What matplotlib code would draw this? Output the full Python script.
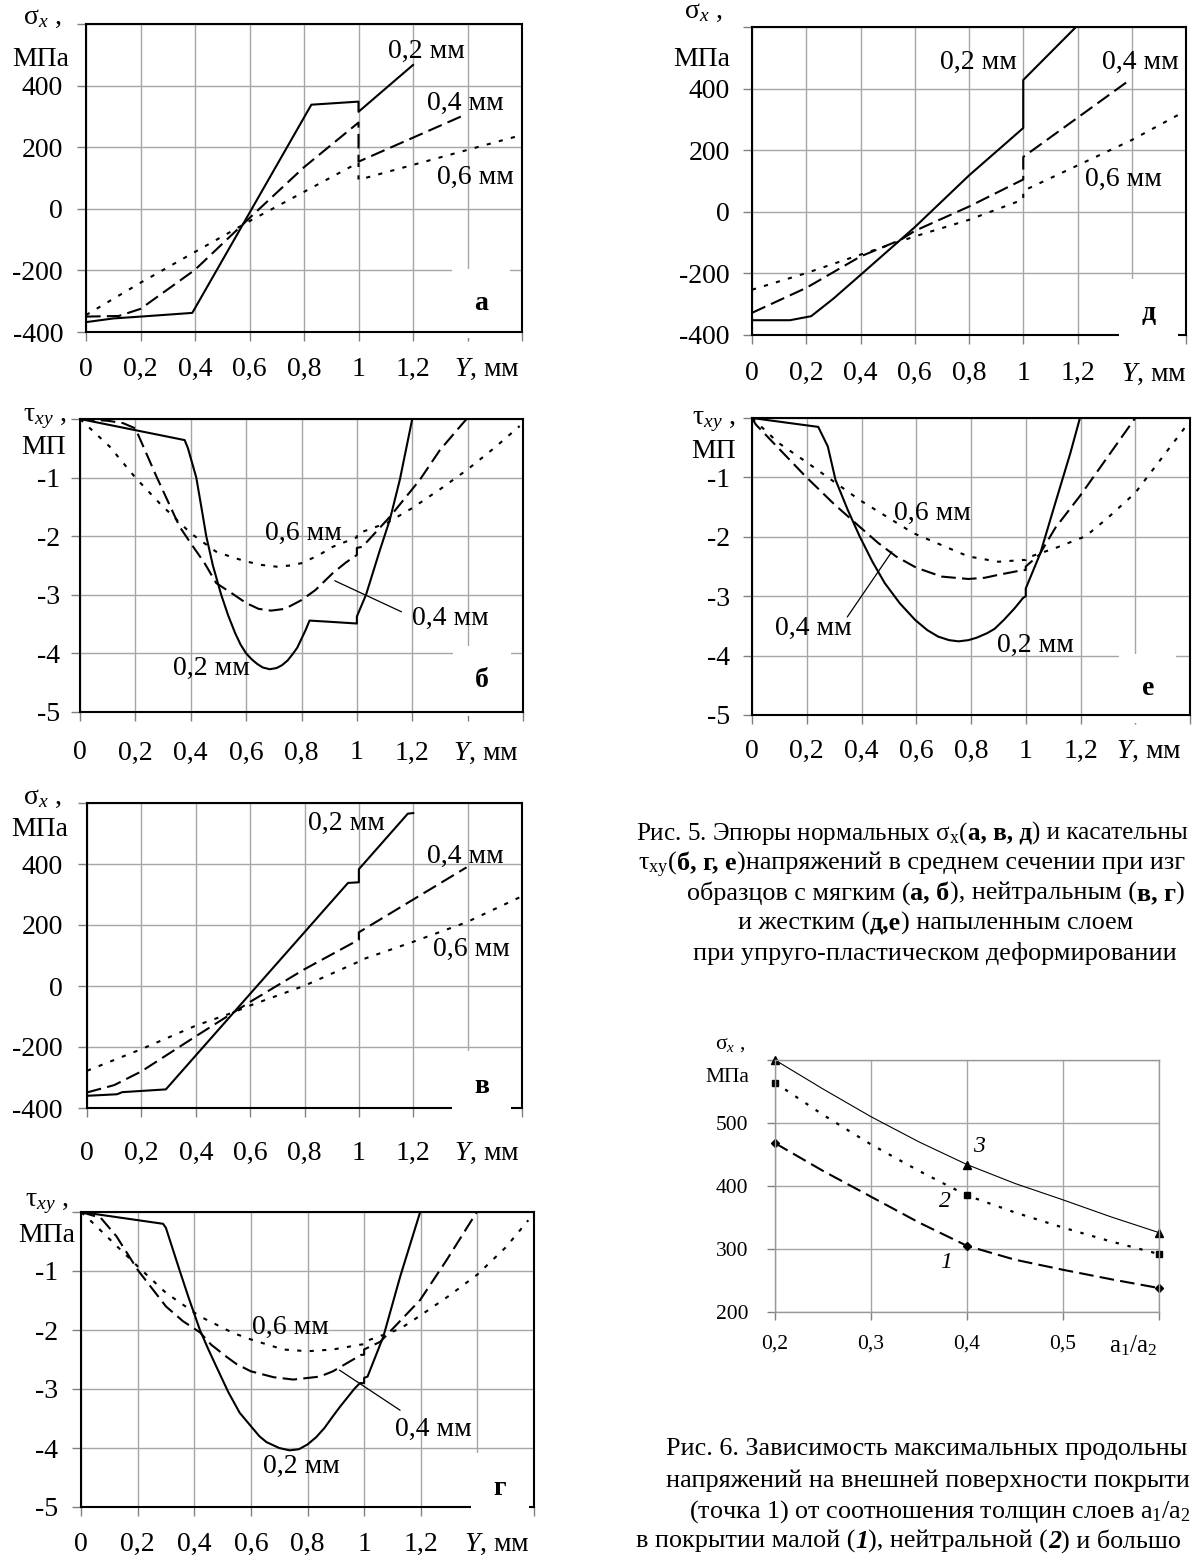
import matplotlib
matplotlib.use("Agg")
import matplotlib.pyplot as plt

plt.rcParams['font.family'] = ['Liberation Serif', 'DejaVu Serif']
plt.rcParams['mathtext.fontset'] = 'custom'
plt.rcParams['mathtext.rm'] = 'Liberation Serif'
plt.rcParams['mathtext.it'] = 'Liberation Serif:italic'
plt.rcParams['mathtext.bf'] = 'Liberation Serif:bold'
plt.rcParams['axes.unicode_minus'] = False

W, H = 1198, 1561

# ---- axis ticks ----
Y_TICKS = [0, 0.2, 0.4, 0.6, 0.8, 1.0, 1.2, 1.4, 1.6]
Y_TICK_LABELS = ['0', '0,2', '0,4', '0,6', '0,8', '1', '1,2', '', '']
SIG_TICKS = [-400, -200, 0, 200, 400, 600]
SIG_TICK_LABELS = ['-400', '-200', '0', '200', '400', '']
TAU_TICKS = [-5, -4, -3, -2, -1, 0]
TAU_TICK_LABELS = ['-5', '-4', '-3', '-2', '-1', '']

# ---- panel а : sigma_x, soft layer ----
A_Y02 = [0, 0.1, 0.2, 0.39, 0.827, 1.0, 1.0, 1.2]
A_S02 = [-368, -356, -350, -338, 338, 348, 315, 467]
A_Y04 = [0, 0.12, 0.2, 0.4, 0.6, 0.8, 1.0, 1.0, 1.39]
A_S04 = [-350, -348, -325, -198, -30, 135, 280, 153, 305]
A_Y06 = [0, 0.2, 0.4, 0.6, 0.8, 1.0, 1.0, 1.58]
A_S06 = [-345, -240, -140, -40, 55, 150, 94, 235]

# ---- panel б : tau_xy, soft layer ----
B_Y02 = [0, 0.378, 0.39, 0.42, 0.44, 0.456, 0.48, 0.51, 0.535, 0.56, 0.58, 0.60, 0.62,
         0.64, 0.66, 0.685, 0.71, 0.73, 0.75, 0.77, 0.785, 0.80, 0.815, 0.829, 0.9,
         1.0, 1.0, 1.033, 1.083, 1.119, 1.155, 1.20]
B_T02 = [0, -0.36, -0.5, -1.0, -1.55, -2.0, -2.5, -3.0, -3.35, -3.65, -3.85, -4.0, -4.1,
         -4.18, -4.24, -4.27, -4.25, -4.2, -4.12, -4.0, -3.9, -3.75, -3.6, -3.44, -3.46,
         -3.49, -3.37, -3.0, -2.24, -1.72, -1.04, 0]
B_Y04 = [0, 0.1, 0.155, 0.2, 0.276, 0.36, 0.4, 0.45, 0.492, 0.55, 0.6, 0.645, 0.69,
         0.74, 0.8, 0.85, 0.913, 0.96, 1.0, 1.0, 1.02, 1.119, 1.227, 1.30, 1.396]
B_T04 = [0, -0.03, -0.07, -0.16, -0.98, -1.84, -2.12, -2.46, -2.8, -2.98, -3.14, -3.24, -3.27,
         -3.24, -3.09, -2.92, -2.63, -2.45, -2.32, -2.2, -2.18, -1.67, -1.04, -0.53, 0]
B_Y06 = [0, 0.107, 0.2, 0.288, 0.4, 0.49, 0.55, 0.6, 0.655, 0.71, 0.76, 0.8, 0.86, 0.913,
         1.0, 1.0, 1.11, 1.2, 1.3, 1.4, 1.5, 1.588]
B_T06 = [0, -0.47, -1.0, -1.44, -1.95, -2.26, -2.36, -2.43, -2.49, -2.52, -2.5, -2.46, -2.33,
         -2.18, -2.02, -1.96, -1.77, -1.52, -1.2, -0.86, -0.48, -0.12]

# ---- panel в : sigma_x, neutral layer ----
V_Y02 = [0, 0.11, 0.13, 0.29, 0.96, 1.0, 1.0, 1.18, 1.2]
V_S02 = [-360, -355, -348, -339, 338, 340, 383, 565, 567]
V_Y04 = [0, 0.1, 0.2, 0.4, 0.54, 0.6, 0.8, 1.0, 1.0, 1.396]
V_S04 = [-349, -325, -280, -165, -86, -52, 55, 152, 176, 389]
V_Y06 = [0, 0.2, 0.4, 0.54, 0.6, 0.8, 1.0, 1.0, 1.2, 1.396, 1.592]
V_S06 = [-278, -207, -130, -86, -64, 1, 80, 83, 145, 209, 291]

# ---- panel г : tau_xy, neutral layer ----
G_Y02 = [0, 0.29, 0.30, 0.349, 0.38, 0.42, 0.45, 0.478, 0.52, 0.56, 0.6, 0.63, 0.655,
         0.70, 0.737, 0.77, 0.8, 0.83, 0.86, 0.89, 0.915, 0.94, 0.965, 0.985, 1.0,
         1.0, 1.012, 1.068, 1.127, 1.198]
G_T02 = [0, -0.2, -0.27, -1.0, -1.45, -2.0, -2.33, -2.62, -3.05, -3.4, -3.63, -3.8, -3.9,
         -4.0, -4.04, -4.02, -3.94, -3.82, -3.66, -3.46, -3.3, -3.15, -3.0, -2.9, -2.9,
         -2.81, -2.79, -2.11, -1.10, 0]
G_Y04 = [0, 0.07, 0.125, 0.2, 0.3, 0.36, 0.42, 0.46, 0.513, 0.55, 0.6, 0.68, 0.75,
         0.843, 0.89, 0.94, 0.99, 1.0, 1.0, 1.057, 1.198, 1.292, 1.398]
G_T04 = [0, -0.1, -0.41, -0.98, -1.6, -1.85, -2.04, -2.25, -2.45, -2.58, -2.7, -2.8, -2.84,
         -2.79, -2.7, -2.56, -2.42, -2.42, -2.33, -2.2, -1.49, -0.81, 0]
G_Y06 = [0, 0.03, 0.2, 0.3, 0.42, 0.537, 0.6, 0.714, 0.8, 0.89, 0.985, 1.0,
         1.0, 1.127, 1.2, 1.3, 1.4, 1.5, 1.58]
G_T06 = [0, -0.13, -0.92, -1.37, -1.77, -2.05, -2.16, -2.33, -2.36, -2.33, -2.25, -2.24,
         -2.2, -1.98, -1.75, -1.42, -1.06, -0.6, -0.14]

# ---- panel д : sigma_x, hard layer ----
D_Y02 = [0, 0.14, 0.218, 0.3, 0.4, 0.6, 0.8, 1.0, 1.0, 1.2]
D_S02 = [-352, -352, -339, -282, -205, -50, 118, 272, 428, 605]
D_Y04 = [0, 0.2, 0.4, 0.55, 0.6, 0.8, 1.0, 1.0, 1.38]
D_S04 = [-328, -247, -145, -90, -62, 17, 105, 178, 420]
D_Y06 = [0, 0.2, 0.4, 0.6, 0.8, 1.0, 1.0, 1.4, 1.57]
D_S06 = [-253, -199, -139, -80, -26, 40, 68, 233, 314]

# ---- panel е : tau_xy, hard layer ----
E_Y02 = [0, 0.242, 0.277, 0.305, 0.35, 0.393, 0.44, 0.485, 0.54, 0.596, 0.64, 0.68, 0.72,
         0.755, 0.79, 0.82, 0.86, 0.886, 0.92, 0.96, 0.99, 1.0, 1.0, 1.053, 1.108,
         1.163, 1.198]
E_T02 = [0, -0.15, -0.48, -1.04, -1.55, -1.99, -2.42, -2.78, -3.12, -3.4, -3.57, -3.68, -3.74,
         -3.76, -3.74, -3.7, -3.62, -3.55, -3.4, -3.2, -3.03, -3.0, -2.87, -2.28, -1.43,
         -0.59, 0]
E_Y04 = [0, 0.014, 0.195, 0.3, 0.393, 0.46, 0.526, 0.6, 0.693, 0.79, 0.85, 0.9, 0.99,
         1.0, 1.0, 1.05, 1.108, 1.2, 1.3, 1.4]
E_T04 = [0, -0.11, -0.98, -1.45, -1.83, -2.1, -2.33, -2.52, -2.67, -2.71, -2.69, -2.64, -2.56,
         -2.56, -2.5, -2.3, -1.85, -1.3, -0.65, 0]
E_Y06 = [0, 0.097, 0.195, 0.393, 0.59, 0.79, 0.9, 0.99, 1.0, 1.0, 1.108, 1.219,
         1.3, 1.4, 1.58]
E_T06 = [0, -0.42, -0.73, -1.38, -1.94, -2.33, -2.42, -2.39, -2.39, -2.36, -2.19, -1.99,
         -1.68, -1.26, -0.17]

# ---- fig. 6 : max sigma_x vs a1/a2 ----
RATIO = [0.2, 0.25, 0.3, 0.35, 0.4, 0.45, 0.5, 0.55, 0.6]
RATIO_TICKS = [0.2, 0.3, 0.4, 0.5, 0.6]
RATIO_TICK_LABELS = ['0,2', '0,3', '0,4', '0,5', '']
SIG_1 = [468, 424, 383, 342, 305, 283, 267, 252, 238]
SIG_2 = [564, 513, 466, 424, 385, 358, 334, 312, 292]
SIG_3 = [600, 554, 510, 470, 434, 404, 378, 351, 326]
SIG6_TICKS = [200, 300, 400, 500, 600]
SIG6_TICK_LABELS = ['200', '300', '400', '500', '']

GRID = '#a6a6a6'
TICKC = '#808080'
SOLID = dict(color='black', lw=1.5, ls='-')
DASHED = dict(color='black', lw=1.5, ls=(0, (7, 3)))
DOTTED = dict(color='black', lw=1.5, ls=(0, (2, 4)))

fig = plt.figure(figsize=(W / 100, H / 100), dpi=100)
fig.patch.set_facecolor('white')


def box(x0, y0, x1, y1):
    return fig.add_axes([x0 / W, 1 - y1 / H, (x1 - x0) / W, (y1 - y0) / H])


def profile(ax, curves, ticks, ticklabels, ylim, fs, tlen, xpad, ypad, unit_x):
    for (yy, vv), st in zip(curves, (SOLID, DASHED, DOTTED)):
        ax.plot(yy, vv, **st)
    ax.set_xlim(0, 1.6)
    ax.set_ylim(*ylim)
    ax.set_xticks(Y_TICKS)
    ax.set_xticklabels(Y_TICK_LABELS)
    ax.set_yticks(ticks)
    ax.set_yticklabels(ticklabels)
    ax.grid(True, color=GRID, lw=1.0)
    ax.set_axisbelow(True)
    ax.tick_params(direction='out', length=tlen, width=1, color=TICKC, labelsize=fs)
    ax.tick_params(axis='x', pad=xpad)
    ax.tick_params(axis='y', pad=ypad)
    for s in ax.spines.values():
        s.set_color('black')
        s.set_linewidth(1.5)
    ax.annotate('$Y$, мм', xy=(unit_x, 0), xycoords=('data', 'axes fraction'),
                xytext=(0, -(tlen + xpad)), textcoords='offset points',
                ha='center', va='top', fontsize=fs)


def ylabel(ax, top, bottom, fs, d1, d2):
    ax.annotate(top, xy=(0, 1), xycoords='axes fraction', xytext=d1,
                textcoords='offset pixels', ha='center', va='center', fontsize=fs)
    ax.annotate(bottom, xy=(0, 1), xycoords='axes fraction', xytext=d2,
                textcoords='offset pixels', ha='center', va='center', fontsize=fs)


def letter(ax, x, y, s, fs, z):
    ax.text(x, y, s, fontsize=fs, fontweight='bold', ha='center', va='center', zorder=z,
            bbox=dict(boxstyle='square,pad=0.8', fc='white', ec='none'))


def leader(ax, p0, p1):
    ax.annotate('', xy=p0, xytext=p1,
                arrowprops=dict(arrowstyle='-', lw=0.9, color='black', shrinkA=0, shrinkB=0))


SIG = r'σ$_x$ ,'
TAU = r'τ$_{xy}$ ,'
FS = 20

# ---- а ----
ax = box(86, 24, 522, 332)
profile(ax, [(A_Y02, A_S02), (A_Y04, A_S04), (A_Y06, A_S06)], SIG_TICKS, SIG_TICK_LABELS,
        (-400, 600), FS, 6.5, 11.5, 10, 1.47)
ylabel(ax, SIG, 'МПа', FS, (-44, 6), (-45, -36))
ax.text(1.11, 510, '0,2 мм', fontsize=FS, va='center')
ax.text(1.253, 341, '0,4 мм', fontsize=FS, va='center')
ax.text(1.289, 101, '0,6 мм', fontsize=FS, va='center')
letter(ax, 1.45, -308, 'а', FS, 1)

# ---- б ----
ax = box(80, 419, 523, 712)
profile(ax, [(B_Y02, B_T02), (B_Y04, B_T04), (B_Y06, B_T06)], TAU_TICKS, TAU_TICK_LABELS,
        (-5, 0), FS, 6.5, 14, 8, 1.466)
ylabel(ax, TAU, 'МП', FS, (-35, 0), (-36, -29))
ax.text(0.336, -4.25, '0,2 мм', fontsize=FS, va='center')
ax.text(0.668, -1.95, '0,6 мм', fontsize=FS, va='center')
ax.text(1.199, -3.41, '0,4 мм', fontsize=FS, va='center')
leader(ax, (0.92, -2.76), (1.161, -3.29))
letter(ax, 1.451, -4.47, 'б', FS, 1)

# ---- в ----
ax = box(87, 803, 522, 1108)
profile(ax, [(V_Y02, V_S02), (V_Y04, V_S04), (V_Y06, V_S06)], SIG_TICKS, SIG_TICK_LABELS,
        (-400, 600), FS, 6.5, 17, 11, 1.47)
ylabel(ax, SIG, 'МПа', FS, (-45, 5), (-47, -26))
ax.text(0.8125, 534, '0,2 мм', fontsize=FS, va='center')
ax.text(1.25, 426, '0,4 мм', fontsize=FS, va='center')
ax.text(1.272, 121, '0,6 мм', fontsize=FS, va='center')
letter(ax, 1.452, -328, 'в', FS, 3)

# ---- г ----
ax = box(81, 1212, 534, 1507)
profile(ax, [(G_Y02, G_T02), (G_Y04, G_T04), (G_Y06, G_T06)], TAU_TICKS, TAU_TICK_LABELS,
        (-5, 0), FS, 6.5, 11.5, 10, 1.47)
ylabel(ax, TAU, 'МПа', FS, (-34, 9), (-34, -24))
ax.text(0.604, -1.95, '0,6 мм', fontsize=FS, va='center')
ax.text(0.643, -4.32, '0,2 мм', fontsize=FS, va='center')
ax.text(1.11, -3.69, '0,4 мм', fontsize=FS, va='center')
leader(ax, (0.913, -2.68), (1.127, -3.36))
letter(ax, 1.48, -4.68, 'г', FS, 3)

# ---- д ----
ax = box(752, 27, 1186, 335)
profile(ax, [(D_Y02, D_S02), (D_Y04, D_S04), (D_Y06, D_S06)], SIG_TICKS, SIG_TICK_LABELS,
        (-400, 600), FS, 6.5, 12.5, 9.5, 1.48)
ylabel(ax, SIG, 'МПа', FS, (-49, 15), (-50, -32))
ax.text(0.693, 486, '0,2 мм', fontsize=FS, va='center')
ax.text(1.29, 486, '0,4 мм', fontsize=FS, va='center')
ax.text(1.227, 104, '0,6 мм', fontsize=FS, va='center')
letter(ax, 1.462, -331, 'д', FS, 3)

# ---- е ----
ax = box(752, 418, 1190, 715)
profile(ax, [(E_Y02, E_T02), (E_Y04, E_T04), (E_Y06, E_T06)], TAU_TICKS, TAU_TICK_LABELS,
        (-5, 0), FS, 6.5, 11, 9.5, 1.45)
ylabel(ax, TAU, 'МП', FS, (-38, -4), (-38, -34))
ax.text(0.52, -1.6, '0,6 мм', fontsize=FS, va='center')
ax.text(0.083, -3.55, '0,4 мм', fontsize=FS, va='center')
ax.text(0.894, -3.82, '0,2 мм', fontsize=FS, va='center')
leader(ax, (0.511, -2.25), (0.348, -3.35))
letter(ax, 1.446, -4.55, 'е', FS, 1)

# ---- fig. 6 ----
ax = box(775, 1060, 1159, 1312)
ax.plot(RATIO, SIG_1, color='black', lw=1.5, ls=(0, (7, 3)), marker='D', ms=4,
        markevery=[0, 4, 8], clip_on=False)
ax.plot(RATIO, SIG_2, color='black', lw=1.6, ls=(0, (1.5, 4)), marker='s', ms=5,
        markevery=[0, 4, 8], clip_on=False)
ax.plot(RATIO, SIG_3, color='black', lw=0.8, marker='^', ms=5.5,
        markevery=[0, 4, 8], clip_on=False)
ax.set_xlim(0.2, 0.6)
ax.set_ylim(200, 600)
ax.set_xticks(RATIO_TICKS)
ax.set_xticklabels(RATIO_TICK_LABELS)
ax.set_yticks(SIG6_TICKS)
ax.set_yticklabels(SIG6_TICK_LABELS)
ax.grid(True, color=GRID, lw=1.0)
ax.set_axisbelow(True)
ax.tick_params(direction='out', length=5.5, width=1, color=TICKC, labelsize=15.5)
ax.tick_params(axis='x', pad=11)
ax.tick_params(axis='y', pad=13.5)
for s in ax.spines.values():
    s.set_color('#999999')
    s.set_linewidth(1.0)
ax.annotate('a$_1$/a$_2$', xy=(0.573, 0), xycoords=('data', 'axes fraction'),
            xytext=(0, -15.5), textcoords='offset points', ha='center', va='top', fontsize=18)
ylabel(ax, r'σ$_x$ ,', 'МПа', 15.5, (-45, 15), (-48, -17))
ax.text(0.4125, 462, '3', fontsize=17, style='italic', ha='center', va='center')
ax.text(0.377, 375, '2', fontsize=17, style='italic', ha='center', va='center')
ax.text(0.378, 279, '1', fontsize=17, style='italic', ha='center', va='center')

# ---- captions ----
cap = fig.add_axes([0, 0, 1, 1])
cap.axis('off')
cap.set_xlim(0, 1)
cap.set_ylim(0, 1)


def rich_line(x, y, parts, fs):
    prev = None
    for s, weight, style in parts:
        if prev is None:
            prev = cap.text(x / W, 1 - y / H, s, fontsize=fs, fontweight=weight,
                            fontstyle=style, ha='left', va='baseline')
        else:
            prev = cap.annotate(s, xy=(1, 1 - y / H), xycoords=(prev, 'axes fraction'),
                                fontsize=fs, fontweight=weight, fontstyle=style,
                                ha='left', va='baseline')


N, B = 'normal', 'bold'
CFS = 18.8
rich_line(636, 840, [('Рис. 5. Эпюры нормальных σ$_\\mathrm{x}$(', N, N), ('а, в, д', B, N),
                     (') и касательны', N, N)], 18.1)
rich_line(638, 870, [('τ$_\\mathrm{xy}$(', N, N), ('б, г, е', B, N),
                     (')напряжений в среднем сечении при изг', N, N)], CFS)
rich_line(687, 900, [('образцов с мягким (', N, N), ('а, б', B, N), ('), нейтральным (', N, N),
                     ('в, г', B, N), (')', N, N)], CFS)
rich_line(738, 930, [('и жестким (', N, N), ('д,е', B, N), (') напыленным слоем', N, N)], CFS)
rich_line(693, 960, [('при упруго-пластическом деформировании', N, N)], CFS)

rich_line(666, 1455, [('Рис. 6. Зависимость максимальных продольны', N, N)], CFS)
rich_line(666, 1487, [('напряжений на внешней поверхности покрыти', N, N)], CFS)
rich_line(689, 1518, [('(точка 1) от соотношения толщин слоев a$_1$/a$_2$', N, N)], CFS)
rich_line(636, 1548, [('в покрытии малой (', N, N), ('1', B, 'italic'), ('), нейтральной (', N, N),
                      ('2', B, 'italic'), (') и большо', N, N)], CFS)

fig.savefig('out.png', dpi=100, facecolor='white')
